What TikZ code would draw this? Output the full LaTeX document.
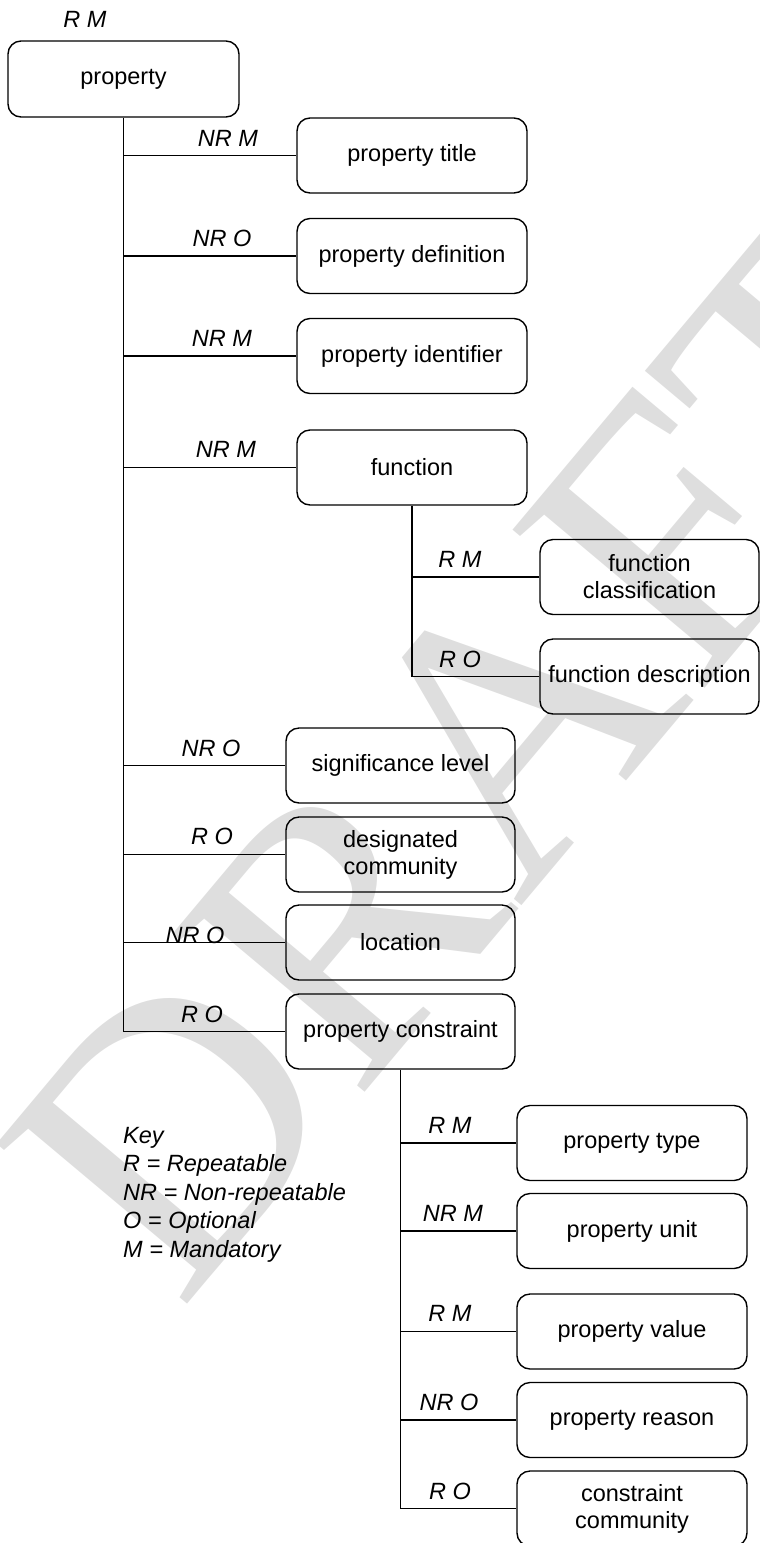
\documentclass[tikz,border=0pt]{standalone}
\usepackage{fontspec}
\setmainfont{Liberation Sans}
\newfontfamily\wmfont{Liberation Serif}
\begin{document}
\begin{tikzpicture}[x=1pt,y=-1pt,
  box/.style={draw, line width=1.4pt, rounded corners=13pt, align=center, inner sep=0pt,
    minimum width=230pt, minimum height=75pt, font=\fontsize{23.5}{27}\selectfont},
  sidebox/.style={box, minimum width=219pt},
  lbl/.style={font=\fontsize{23.5}{27}\selectfont\itshape, inner sep=0pt},
  trunk/.style={line width=1.8pt},
  branch/.style={line width=1.2pt},
  wmark/.style={text=black!13, font=\wmfont\fontsize{380}{380}\selectfont, inner sep=0pt}]
\useasboundingbox (0,0) rectangle (760,1543);
% watermark
\node[wmark, rotate=50] (wm) at (485,755) {DRAFT};
% boxes
\node[box, minimum width=231pt, minimum height=76pt] (prop) at (123.5,79) {property};
\node[box] (title) at (412,155.5) {property title};
\node[box] (def) at (412,256) {property definition};
\node[box] (ident) at (412,356) {property identifier};
\node[box] (func) at (412,467.5) {function};
\node[sidebox] (fclass) at (649.5,577) {function\\classification};
\node[sidebox] (fdesc) at (649.5,676.5) {function description};
\node[box, minimum width=229pt] (sig) at (400.5,765.5) {significance level};
\node[box, minimum width=229pt] (desig) at (400.5,854.5) {designated\\community};
\node[box, minimum width=229pt] (loc) at (400.5,942.5) {location};
\node[box, minimum width=229pt] (pcons) at (400.5,1031.5) {property constraint};
\node[box] (ptype) at (632,1143) {property type};
\node[box] (punit) at (632,1231) {property unit};
\node[box] (pval) at (632,1331.5) {property value};
\node[box] (preason) at (632,1420) {property reason};
\node[box] (ccomm) at (632,1508.5) {constraint\\community};
% connectors
\draw[trunk] (prop.south) -- (prop.south |- pcons.west);
\foreach \n in {title,def,ident,func,sig,desig,loc,pcons}
  \draw[branch] (prop.south |- \n.west) -- (\n.west);
\draw[trunk] (func.south) -- (func.south |- fdesc.west);
\foreach \n in {fclass,fdesc}
  \draw[branch] (func.south |- \n.west) -- (\n.west);
\draw[trunk] (pcons.south) -- (pcons.south |- ccomm.west);
\foreach \n in {ptype,punit,pval,preason,ccomm}
  \draw[branch] (pcons.south |- \n.west) -- (\n.west);
% labels
\node[lbl] (l0) at (85,19) {R M};
\node[lbl] (l1) at (228,138) {NR M};
\node[lbl] (l2) at (222,238) {NR O};
\node[lbl] (l3) at (222,338) {NR M};
\node[lbl] (l4) at (226,449) {NR M};
\node[lbl] (l5) at (460,559) {R M};
\node[lbl] (l6) at (460,659) {R O};
\node[lbl] (l7) at (211,748) {NR O};
\node[lbl] (l8) at (212,836) {R O};
\node[lbl] (l9) at (195,935) {NR O};
\node[lbl] (l10) at (202,1014) {R O};
\node[lbl] (l11) at (450,1125) {R M};
\node[lbl] (l12) at (453,1213) {NR M};
\node[lbl] (l13) at (450,1313) {R M};
\node[lbl] (l14) at (449,1402) {NR O};
\node[lbl] (l15) at (450,1491) {R O};
% key
\node[lbl, anchor=north west, align=left, font=\fontsize{23.5}{28.5}\selectfont\itshape] (key) at (123,1127)
  {Key\\R = Repeatable\\NR = Non-repeatable\\O = Optional\\M = Mandatory};
\end{tikzpicture}
\end{document}
